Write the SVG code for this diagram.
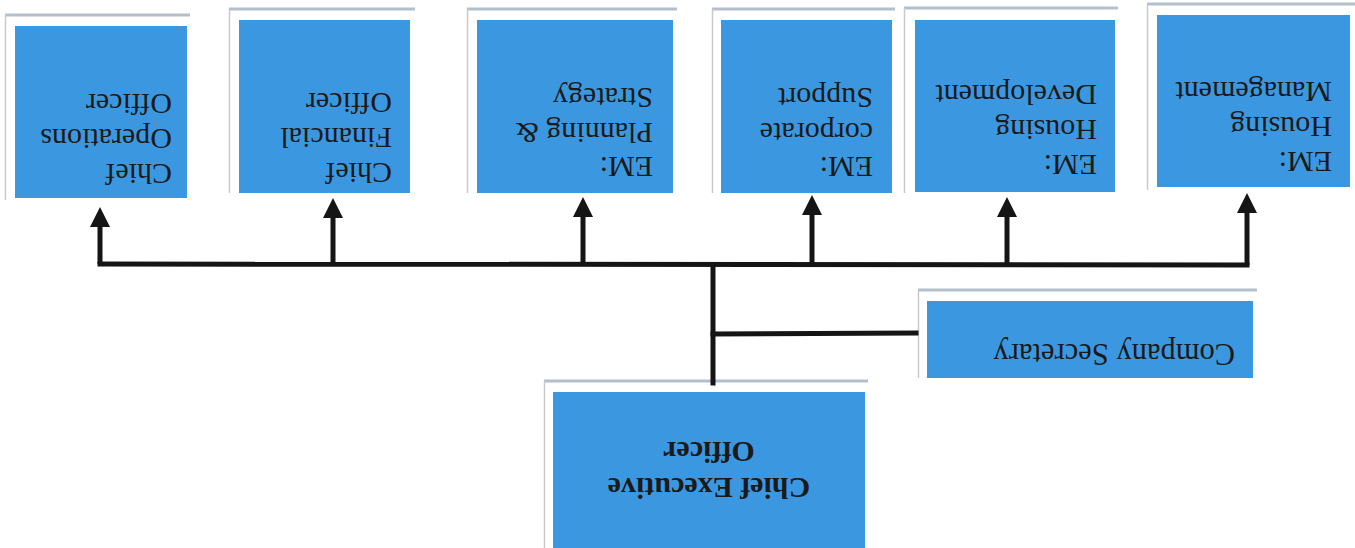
<svg xmlns="http://www.w3.org/2000/svg" width="1355" height="548" viewBox="0 0 1355 548">
<style>
.frame-top{stroke:#b3bfcc;stroke-width:3;fill:none}
.frame-side{stroke:#c9c9c9;stroke-width:1.5;fill:none}
.box{fill:#3b98e0}
.lbl{font-family:"Liberation Serif","Times New Roman",serif;font-size:30px;fill:#1a1a1a}
.bold{font-weight:bold}
.conn{stroke:#151515;stroke-width:5;fill:none;stroke-linecap:square}
</style>
<defs>
<marker id="ah" markerUnits="userSpaceOnUse" markerWidth="20" markerHeight="20" viewBox="0 0 20 20" refX="0" refY="10" orient="auto">
<path d="M0,0 L20,10 L0,20 z" fill="#151515"/>
</marker>
</defs>
<rect width="1355" height="548" fill="#ffffff"/>

<g id="coo">
<line class="frame-top" x1="5" y1="15" x2="190" y2="15"/>
<line class="frame-side" x1="5.5" y1="15" x2="5.5" y2="200"/>
<rect class="box" x="15" y="26" width="172" height="172"/>
<text class="lbl" transform="rotate(180 172 164)" x="172" y="164"><tspan x="172">Chief</tspan><tspan x="172" dy="35">Operations</tspan><tspan x="172" dy="35">Officer</tspan></text>
</g>

<g id="cfo">
<line class="frame-top" x1="229" y1="9" x2="415" y2="9"/>
<line class="frame-side" x1="229.5" y1="9" x2="229.5" y2="193"/>
<rect class="box" x="239" y="20" width="171" height="173"/>
<text class="lbl" transform="rotate(180 392 163)" x="392" y="163"><tspan x="392">Chief</tspan><tspan x="392" dy="35">Financial</tspan><tspan x="392" dy="35">Officer</tspan></text>
</g>

<g id="em-planning">
<line class="frame-top" x1="467" y1="9" x2="677" y2="9"/>
<line class="frame-side" x1="467.5" y1="9" x2="467.5" y2="193"/>
<rect class="box" x="477" y="20" width="196" height="173"/>
<text class="lbl" transform="rotate(180 653 157)" x="653" y="157"><tspan x="653">EM:</tspan><tspan x="653" dy="34.5">Planning &amp;</tspan><tspan x="653" dy="34.5">Strategy</tspan></text>
</g>

<g id="em-corporate">
<line class="frame-top" x1="712" y1="9" x2="895" y2="9"/>
<line class="frame-side" x1="712.5" y1="9" x2="712.5" y2="193"/>
<rect class="box" x="721" y="20" width="171" height="173"/>
<text class="lbl" transform="rotate(180 873 157)" x="873" y="157"><tspan x="873">EM:</tspan><tspan x="873" dy="34.5">corporate</tspan><tspan x="873" dy="34.5">Support</tspan></text>
</g>

<g id="em-development">
<line class="frame-top" x1="904" y1="8" x2="1118" y2="8"/>
<line class="frame-side" x1="904.5" y1="8" x2="904.5" y2="193"/>
<rect class="box" x="915" y="20" width="200" height="172"/>
<text class="lbl" transform="rotate(180 1097 155)" x="1097" y="155"><tspan x="1097">EM:</tspan><tspan x="1097" dy="35">Housing</tspan><tspan x="1097" dy="35">Development</tspan></text>
</g>

<g id="em-management">
<line class="frame-top" x1="1147" y1="4" x2="1355" y2="4"/>
<line class="frame-side" x1="1147.5" y1="4" x2="1147.5" y2="190"/>
<rect class="box" x="1157" y="15" width="193" height="172"/>
<text class="lbl" transform="rotate(180 1332 152)" x="1332" y="152"><tspan x="1332">EM:</tspan><tspan x="1332" dy="35">Housing</tspan><tspan x="1332" dy="35">Management</tspan></text>
</g>

<g id="company-secretary">
<line class="frame-top" x1="918" y1="290" x2="1257" y2="290"/>
<line class="frame-side" x1="918.5" y1="290" x2="918.5" y2="378"/>
<rect class="box" x="927" y="301" width="326" height="77"/>
<text class="lbl" style="font-size:30.5px" transform="rotate(180 1235 344)" x="1235" y="344">Company Secretary</text>
</g>

<g id="ceo">
<line class="frame-top" x1="544" y1="381" x2="868" y2="381"/>
<line class="frame-side" x1="544.5" y1="381" x2="544.5" y2="548"/>
<rect class="box" x="553" y="392" width="312" height="156"/>
<text class="lbl bold" text-anchor="middle" transform="rotate(180 709 478)" x="709" y="478"><tspan x="709">Chief Executive</tspan><tspan x="709" dy="36">Officer</tspan></text>
</g>

<g id="connectors">
<path class="conn" d="M100,264 L1247,265"/>
<path class="conn" d="M713,265 L713,383"/>
<path class="conn" d="M713,334 L916,333"/>
<line class="conn" style="stroke-linecap:butt" x1="100" y1="264" x2="100" y2="227" marker-end="url(#ah)"/>
<line class="conn" style="stroke-linecap:butt" x1="333" y1="264" x2="333" y2="218" marker-end="url(#ah)"/>
<line class="conn" style="stroke-linecap:butt" x1="583" y1="264" x2="583" y2="217" marker-end="url(#ah)"/>
<line class="conn" style="stroke-linecap:butt" x1="812" y1="265" x2="812" y2="215" marker-end="url(#ah)"/>
<line class="conn" style="stroke-linecap:butt" x1="1007" y1="265" x2="1007" y2="217" marker-end="url(#ah)"/>
<line class="conn" style="stroke-linecap:butt" x1="1247" y1="265" x2="1247" y2="213" marker-end="url(#ah)"/>
</g>
</svg>
